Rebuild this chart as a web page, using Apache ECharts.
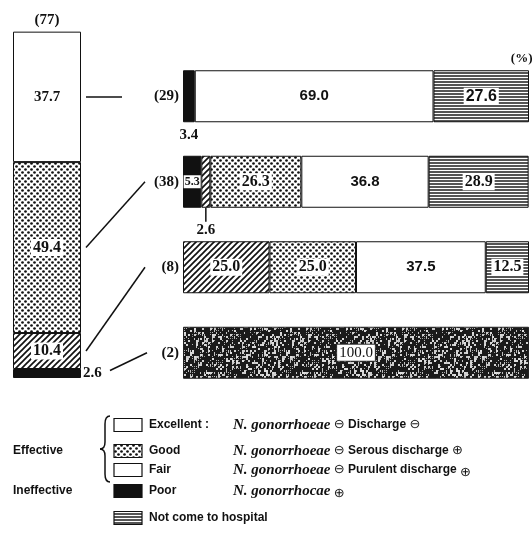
<!DOCTYPE html>
<html>
<head>
<meta charset="utf-8">
<script src="https://cdn.jsdelivr.net/npm/echarts@6/dist/echarts.min.js"></script>
<style>
  html, body { margin: 0; padding: 0; background: #fff; }
  #chart { width: 532px; height: 538px; }
</style>
</head>
<body>
<div id="chart"></div>
<script>
// overall result of 77 cases (bottom to top in the left column)
const totalLabel = '(77)';
const overallNames = ['Poor', 'Excellent', 'Good', 'Fair'];
const overallValues = [2.6, 10.4, 49.4, 37.7];

// follow-up of each group (rows of the right part)
const rowLabels = ['(29)', '(38)', '(8)', '(2)'];
const poorValues = [3.4, 5.3, null, 100.0];
const excellentValues = [null, 2.6, 25.0, null];
const goodValues = [null, 26.3, 25.0, null];
const fairValues = [69.0, 36.8, 37.5, null];
const notComeValues = [27.6, 28.9, 12.5, null];

const SERIF = '"Liberation Serif", "DejaVu Serif", serif';
const SANS = '"Liberation Sans", Arial, sans-serif';

// --- fill patterns ---
function makeCanvas(w, h) {
  const c = document.createElement('canvas');
  c.width = w; c.height = h;
  return c;
}
function hatchPattern() {
  const c = makeCanvas(6, 6), ctx = c.getContext('2d');
  ctx.fillStyle = '#fff'; ctx.fillRect(0, 0, 6, 6);
  ctx.strokeStyle = '#111'; ctx.lineWidth = 1.7;
  [[0, 6, 6, 0], [-1, 1, 1, -1], [5, 7, 7, 5]].forEach(l => {
    ctx.beginPath(); ctx.moveTo(l[0], l[1]); ctx.lineTo(l[2], l[3]); ctx.stroke();
  });
  return { image: c, repeat: 'repeat' };
}
function dotPattern() {
  const c = makeCanvas(6, 6), ctx = c.getContext('2d');
  ctx.fillStyle = '#fff'; ctx.fillRect(0, 0, 6, 6);
  ctx.fillStyle = '#111';
  [[1.5, 1.5], [4.5, 4.5]].forEach(p => {
    ctx.beginPath(); ctx.arc(p[0], p[1], 1.35, 0, Math.PI * 2); ctx.fill();
  });
  return { image: c, repeat: 'repeat' };
}
function stripePattern() {
  const c = makeCanvas(8, 3), ctx = c.getContext('2d');
  ctx.fillStyle = '#fff'; ctx.fillRect(0, 0, 8, 3);
  ctx.fillStyle = '#555'; ctx.fillRect(0, 0, 8, 2);
  return { image: c, repeat: 'repeat' };
}
// mottled texture for the (2) row, deterministic
function noisePattern() {
  const n = 96, c = makeCanvas(n, n), ctx = c.getContext('2d');
  ctx.fillStyle = '#1a1a1a'; ctx.fillRect(0, 0, n, n);
  for (let y = 0; y < n; y += 2) {
    for (let x = 0; x < n; x += 2) {
      const h = Math.abs(Math.sin(x * 12.9898 + y * 78.233) * 43758.5453) % 1;
      const k = Math.abs(Math.sin(x * 0.21 + y * 0.37) + Math.sin(x * 0.09 - y * 0.17)) / 2;
      if (h + k * 0.5 > 0.72) {
        const g = 95 + Math.floor(h * 130);
        ctx.fillStyle = 'rgb(' + g + ',' + g + ',' + g + ')';
        ctx.fillRect(x, y, h > 0.8 ? 2 : 1, h > 0.7 ? 2 : 1);
      }
    }
  }
  return { image: c, repeat: 'repeat' };
}

const FILL = {
  Poor: '#111',
  Excellent: hatchPattern(),
  Good: dotPattern(),
  Fair: '#fff',
  NotCome: stripePattern()
};
const NOISE = noisePattern();

const boxLabel = (size) => ({
  show: true, position: 'inside', color: '#111',
  fontFamily: SERIF, fontWeight: 'bold', fontSize: size || 15,
  backgroundColor: '#fff', padding: [1, 2, 0, 2]
});
const fmt = p => (p.value == null ? '' : Number(p.value).toFixed(1));

const chart = echarts.init(document.getElementById('chart'));

// left column series
const leftSeries = overallNames.map((name, i) => {
  let label;
  if (name === 'Poor') {
    label = { show: true, position: 'right', distance: 2, color: '#111', fontFamily: SERIF, fontWeight: 'bold', fontSize: 15, formatter: fmt };
  } else if (name === 'Fair') {
    label = { show: true, position: 'inside', color: '#111', fontFamily: SERIF, fontWeight: 'bold', fontSize: 15, formatter: fmt };
  } else {
    label = Object.assign(boxLabel(16), { formatter: fmt });
  }
  return {
    name: name + '-all', type: 'bar', stack: 'all', xAxisIndex: 0, yAxisIndex: 0,
    barWidth: 68, data: [overallValues[i]],
    itemStyle: { color: FILL[name], borderColor: '#111', borderWidth: 1 },
    label: label
  };
});

// right rows
function rowSeries(name, values, itemFn) {
  return {
    name: name, type: 'bar', stack: 'rows', xAxisIndex: 1, yAxisIndex: 1,
    barWidth: 52,
    itemStyle: { color: FILL[name], borderColor: '#111', borderWidth: 1 },
    label: { show: true, position: 'inside', formatter: fmt },
    data: values.map((v, i) => {
      const d = { value: v };
      if (itemFn) Object.assign(d, itemFn(v, i));
      return d;
    })
  };
}
const sansInside = { show: true, position: 'inside', color: '#111', fontFamily: SANS, fontWeight: 'bold', fontSize: 15, formatter: fmt };

const rightSeries = [
  rowSeries('Poor', poorValues, (v, i) => {
    if (i === 0) return { label: { show: true, position: 'bottom', distance: 5, color: '#111', fontFamily: SERIF, fontWeight: 'bold', fontSize: 15, formatter: fmt } };
    if (i === 1) return { label: Object.assign(boxLabel(12), { formatter: fmt, padding: [1, 1, 0, 1] }) };
    if (i === 3) return { itemStyle: { color: NOISE, borderColor: '#222', borderWidth: 1 }, label: Object.assign(boxLabel(15), { formatter: fmt, fontWeight: 'normal', borderColor: '#333', borderWidth: 1 }) };
    return {};
  }),
  rowSeries('Excellent', excellentValues, (v, i) => {
    if (i === 1) return { label: { show: true, position: 'bottom', distance: 15, color: '#111', fontFamily: SERIF, fontWeight: 'bold', fontSize: 15, formatter: fmt } };
    return { label: Object.assign(boxLabel(16), { formatter: fmt }) };
  }),
  rowSeries('Good', goodValues, () => ({ label: Object.assign(boxLabel(16), { formatter: fmt }) })),
  rowSeries('Fair', fairValues, () => ({ label: sansInside })),
  rowSeries('NotCome', notComeValues, (v, i) => ({
    label: Object.assign(boxLabel(16), { formatter: fmt, fontFamily: i === 0 ? SANS : SERIF })
  }))
];

const option = {
  animation: false,
  backgroundColor: '#fff',
  grid: [
    { left: 13, top: 32, width: 68, height: 346 },
    { left: 183, top: 53.5, width: 346, height: 342 }
  ],
  xAxis: [
    { gridIndex: 0, type: 'category', data: [totalLabel], show: false },
    { gridIndex: 1, type: 'value', min: 0, max: 100, show: false }
  ],
  yAxis: [
    { gridIndex: 0, type: 'value', min: 0, max: 100, show: false },
    {
      gridIndex: 1, type: 'category', data: rowLabels, inverse: true,
      axisLine: { show: false }, axisTick: { show: false }, splitLine: { show: false },
      axisLabel: { margin: 4, color: '#111', fontFamily: SERIF, fontWeight: 'bold', fontSize: 15 }
    }
  ],
  series: leftSeries.concat(rightSeries)
};
chart.setOption(option);

// --- connectors, annotations and legend ---
const g = [];
const lineStyle = { stroke: '#111', lineWidth: 1.5 };

// (77) above the column
const colTop = chart.convertToPixel({ gridIndex: 0 }, [0, 100]);
g.push({ type: 'text', x: colTop[0], y: colTop[1] - 4, style: { text: totalLabel, font: 'bold 15px ' + SERIF, fill: '#111', align: 'center', verticalAlign: 'bottom' } });
// (%) at the top right
const pctPos = chart.convertToPixel({ gridIndex: 1 }, [95, 0]);
g.push({ type: 'text', x: pctPos[0] + 10, y: pctPos[1] - 38, style: { text: '(%)', font: 'bold 13px ' + SERIF, fill: '#111', align: 'center', verticalAlign: 'middle' } });

// connectors from the column segments to the rows
let acc = 0;
const centers = overallValues.map(v => { const c = acc + v / 2; acc += v; return c; });
const colRight = colTop[0] + 34;
const targets = [
  { seg: 3, row: 0, startDx: 5, endX: 122 },
  { seg: 2, row: 1, startDx: 5, endX: 145 },
  { seg: 1, row: 2, startDx: 5, endX: 145 },
  { seg: 0, row: 3, startDx: 29, endX: 147 }
];
targets.forEach(t => {
  const s = chart.convertToPixel({ gridIndex: 0 }, [0, centers[t.seg]]);
  const r = chart.convertToPixel({ gridIndex: 1 }, [0, t.row]);
  const y2 = t.row === 0 ? s[1] : r[1];
  g.push({ type: 'line', shape: { x1: colRight + t.startDx, y1: s[1] - (t.seg === 0 ? 3 : 0), x2: t.endX, y2: y2 }, style: lineStyle });
});

// tick under the 2.6 segment of row (38)
const tickPt = chart.convertToPixel({ gridIndex: 1 }, [poorValues[1] + excellentValues[1] / 2, 1]);
g.push({ type: 'line', shape: { x1: tickPt[0], y1: tickPt[1] + 26, x2: tickPt[0], y2: tickPt[1] + 40 }, style: { stroke: '#111', lineWidth: 1.5 } });

// legend
const legendRows = [
  { y: 425, fill: '#fff', name: 'Excellent :', rest: '{i|N. gonorrhoeae} {s|⊖} Discharge {s|⊖}' },
  { y: 451, fill: FILL.Good, name: 'Good', rest: '{i|N. gonorrhoeae} {s|⊖} Serous discharge {s|⊕}' },
  { y: 470, fill: '#fff', name: 'Fair', rest: '{i|N. gonorrhoeae} {s|⊖} Purulent discharge {sub|⊕}' },
  { y: 491, fill: FILL.Poor, name: 'Poor', rest: '{i|N. gonorrhocae} {sub|⊕}' },
  { y: 518, fill: FILL.NotCome, name: 'Not come to hospital', rest: '' }
];
const rich = {
  i: { fontFamily: SERIF, fontStyle: 'italic', fontWeight: 'bold', fontSize: 15, fill: '#111' },
  s: { fontFamily: '"DejaVu Sans", sans-serif', fontWeight: 'normal', fontSize: 13, fill: '#111' },
  sub: { fontFamily: '"DejaVu Sans", sans-serif', fontWeight: 'normal', fontSize: 13, fill: '#111', padding: [6, 0, 0, 0] }
};
legendRows.forEach(r => {
  g.push({ type: 'rect', shape: { x: 114, y: r.y - 6.5, width: 28, height: 13 }, style: { fill: r.fill, stroke: '#111', lineWidth: 1.2 } });
  g.push({ type: 'text', x: 149, y: r.y, style: { text: r.name, font: 'bold 12px ' + SANS, fill: '#111', verticalAlign: 'middle' } });
  if (r.rest) {
    g.push({ type: 'text', x: 233, y: r.y, style: { text: r.rest, font: 'bold 12px ' + SANS, fill: '#111', verticalAlign: 'middle', rich: rich } });
  }
});
g.push({ type: 'text', x: 13, y: 451, style: { text: 'Effective', font: 'bold 12px ' + SANS, fill: '#111', verticalAlign: 'middle' } });
g.push({ type: 'text', x: 13, y: 491, style: { text: 'Ineffective', font: 'bold 12px ' + SANS, fill: '#111', verticalAlign: 'middle' } });

// curly brace grouping the effective grades
const braceStyle = { fill: 'none', stroke: '#111', lineWidth: 1.5 };
g.push({ type: 'bezierCurve', shape: { x1: 110, y1: 416, cpx1: 106, cpy1: 416, cpx2: 105, cpy2: 419, x2: 105, y2: 424 }, style: braceStyle });
g.push({ type: 'line', shape: { x1: 105, y1: 424, x2: 105, y2: 442 }, style: braceStyle });
g.push({ type: 'bezierCurve', shape: { x1: 105, y1: 442, cpx1: 105, cpy1: 447, cpx2: 103, cpy2: 449, x2: 100, y2: 449 }, style: braceStyle });
g.push({ type: 'bezierCurve', shape: { x1: 100, y1: 449, cpx1: 103, cpy1: 449, cpx2: 105, cpy2: 451, x2: 105, y2: 456 }, style: braceStyle });
g.push({ type: 'line', shape: { x1: 105, y1: 456, x2: 105, y2: 474 }, style: braceStyle });
g.push({ type: 'bezierCurve', shape: { x1: 105, y1: 474, cpx1: 105, cpy1: 479, cpx2: 106, cpy2: 482, x2: 110, y2: 482 }, style: braceStyle });

chart.setOption({ graphic: g });
</script>
</body>
</html>
